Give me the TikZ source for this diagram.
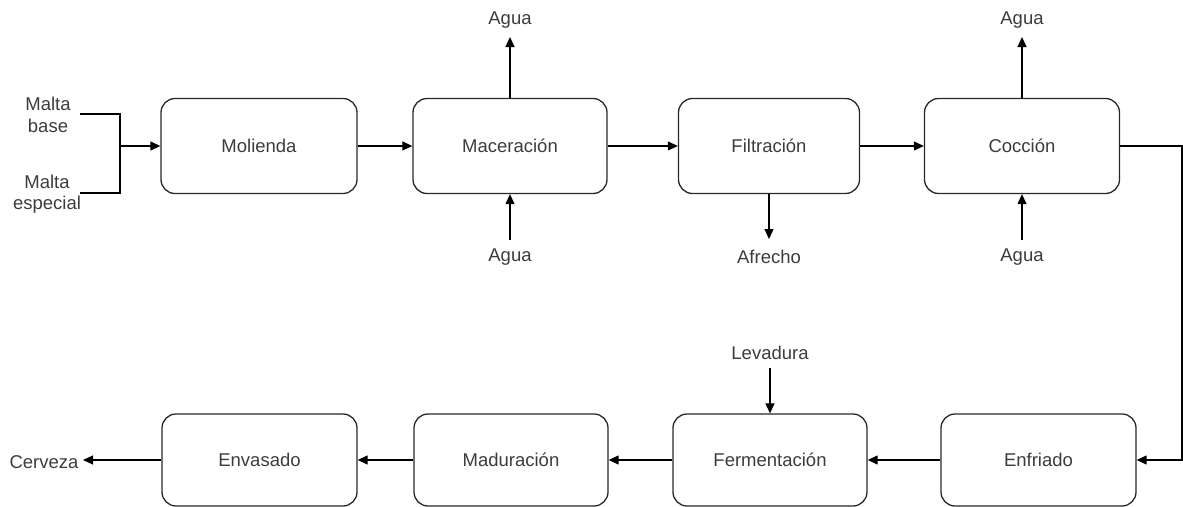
\documentclass[tikz,border=0pt]{standalone}
\usepackage{fontspec}
\setmainfont{Liberation Sans}
\usetikzlibrary{arrows.meta}
\definecolor{txt}{RGB}{60,60,60}
\definecolor{edge}{RGB}{40,40,40}
\begin{document}
\begin{tikzpicture}[x=1pt,y=-1pt,
  font=\fontsize{18.5}{21.5}\selectfont,
  proc/.style={draw=edge,line width=1.3pt,rounded corners=14pt,text=txt,inner sep=0pt,minimum height=95pt},
  lbl/.style={text=txt,inner sep=0pt,align=center},
  flow/.style={draw=black,line width=1.2pt,-{Triangle[length=10pt,width=9pt]}},
  plain/.style={draw=black,line width=1.2pt}]
\useasboundingbox (0,0) rectangle (1183,506);
% top row
\node[proc,minimum width=196pt] (mol) at (259,146) {Molienda};
\node[proc,minimum width=194pt] (mac) at (510,146) {Maceración};
\node[proc,minimum width=181pt] (fil) at (769,146) {Filtración};
\node[proc,minimum width=195pt] (coc) at (1022,146) {Cocción};
% bottom row
\node[proc,minimum width=195pt,minimum height=92pt] (env) at (259.5,460) {Envasado};
\node[proc,minimum width=194pt,minimum height=92pt] (mad) at (511,460) {Maduración};
\node[proc,minimum width=194pt,minimum height=92pt] (fer) at (770,460) {Fermentación};
\node[proc,minimum width=195pt,minimum height=92pt] (enf) at (1038.5,460) {Enfriado};
% labels
\node[lbl] (mb) at (48,115) {Malta\\base};
\node[lbl] (me) at (47,194) {Malta\\especial};
\node[lbl] (a1) at (510,20) {Agua};
\node[lbl] (a2) at (510,257) {Agua};
\node[lbl] (afr) at (769,257) {Afrecho};
\node[lbl] (a3) at (1022,20) {Agua};
\node[lbl] (a4) at (1022,257) {Agua};
\node[lbl] (lev) at (770,353) {Levadura};
\node[lbl] (cer) at (44,462) {Cerveza};
% coordinates
\coordinate (mbE) at (80,114);
\coordinate (meE) at (80,193);
\coordinate (j) at (120,146);
\coordinate (a1s) at (510,37);
\coordinate (a2s) at (510,240);
\coordinate (afrs) at (769,239);
\coordinate (a3s) at (1022,37);
\coordinate (a4s) at (1022,240);
\coordinate (levs) at (770,368);
\coordinate (cers) at (83,460);
\coordinate (rc) at (1182,146);
% connectors
\draw[plain] (mbE) -| (j) |- (meE);
\draw[flow] (j) -- (mol.west);
\draw[flow] (mol.east) -- (mac.west);
\draw[flow] (mac.east) -- (fil.west);
\draw[flow] (fil.east) -- (coc.west);
\draw[flow] (mac.north) -- (a1s);
\draw[flow] (a2s) -- (mac.south);
\draw[flow] (fil.south) -- (afrs);
\draw[flow] (coc.north) -- (a3s);
\draw[flow] (a4s) -- (coc.south);
\draw[flow] (coc.east) -- (rc) |- (enf.east);
\draw[flow] (enf.west) -- (fer.east);
\draw[flow] (fer.west) -- (mad.east);
\draw[flow] (mad.west) -- (env.east);
\draw[flow] (env.west) -- (cers);
\draw[flow] (levs) -- (fer.north);
\end{tikzpicture}
\end{document}
